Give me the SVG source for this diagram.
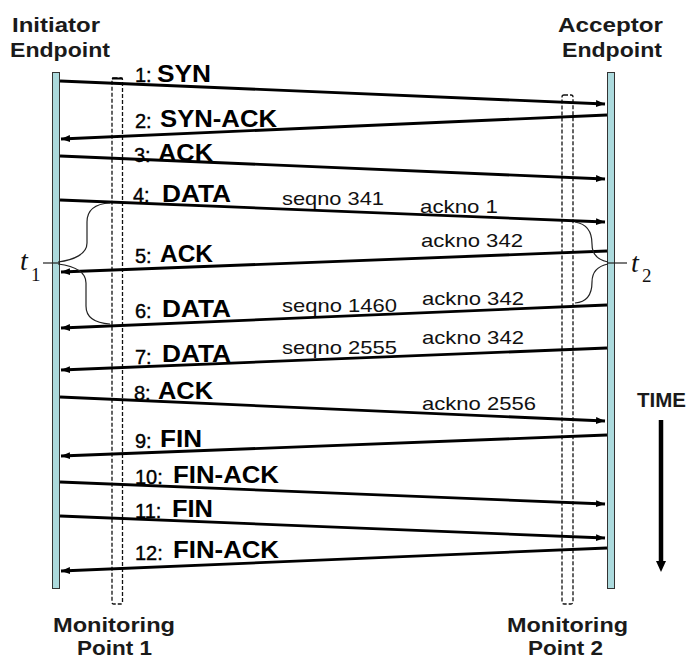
<svg xmlns="http://www.w3.org/2000/svg" width="688" height="659" viewBox="0 0 688 659">
<style>
.hd{font-family:"Liberation Sans",Arial,sans-serif;font-weight:bold;font-size:21px;fill:#1a1a1a}
.w{font-family:"Liberation Sans",Arial,sans-serif;font-weight:bold;font-size:24px;fill:#000}
.n{font-family:"Liberation Sans",Arial,sans-serif;font-size:20px;fill:#000;stroke:#000;stroke-width:0.4}
.s{font-family:"Liberation Sans",Arial,sans-serif;font-size:19px;fill:#111}
.t{font-family:"Liberation Serif","Times New Roman",serif;fill:#111}
.bar{fill:#acdadd;stroke:#333;stroke-width:1}
.mp{fill:none;stroke:#111;stroke-width:1.3;stroke-dasharray:4 2}
.msg{stroke:#000;stroke-width:2.8;fill:none}
.br{stroke:#222;stroke-width:1.2;fill:none}
</style>
<defs>
<marker id="ah" markerUnits="userSpaceOnUse" markerWidth="10" markerHeight="8" refX="9" refY="4" orient="auto">
<path d="M0,0.5 L9,4 L0,7.5 z" fill="#000"/>
</marker>
</defs>

<g id="initiator">
<rect class="bar" x="52.5" y="72.5" width="7" height="516"/>
<text class="hd" x="12" y="32" textLength="88" lengthAdjust="spacingAndGlyphs">Initiator</text>
<text class="hd" x="10" y="57" textLength="100" lengthAdjust="spacingAndGlyphs">Endpoint</text>
</g>

<g id="acceptor">
<rect class="bar" x="607.5" y="72.5" width="7" height="516"/>
<text class="hd" x="558" y="32" textLength="105" lengthAdjust="spacingAndGlyphs">Acceptor</text>
<text class="hd" x="562" y="57" textLength="100" lengthAdjust="spacingAndGlyphs">Endpoint</text>
</g>

<g id="monitor1">
<rect class="mp" x="112" y="78" width="10.5" height="526" rx="1.5"/>
<line x1="112" y1="78.5" x2="122.5" y2="78.5" stroke="#000" stroke-width="2"/>
<text class="hd" x="53" y="632" textLength="122" lengthAdjust="spacingAndGlyphs">Monitoring</text>
<text class="hd" x="77" y="655" textLength="75" lengthAdjust="spacingAndGlyphs">Point 1</text>
</g>

<g id="monitor2">
<rect class="mp" x="562" y="95" width="11" height="509" rx="2"/>
<text class="hd" x="507" y="632" textLength="121" lengthAdjust="spacingAndGlyphs">Monitoring</text>
<text class="hd" x="528" y="655" textLength="75" lengthAdjust="spacingAndGlyphs">Point 2</text>
</g>

<g id="connectors">
<line class="msg" x1="60" y1="81" x2="605" y2="104" marker-end="url(#ah)"/>
<line class="msg" x1="607" y1="115" x2="61" y2="139" marker-end="url(#ah)"/>
<line class="msg" x1="60" y1="156" x2="605" y2="179" marker-end="url(#ah)"/>
<line class="msg" x1="60" y1="200" x2="605" y2="222" marker-end="url(#ah)"/>
<line class="msg" x1="607" y1="251" x2="61" y2="272" marker-end="url(#ah)"/>
<line class="msg" x1="607" y1="305" x2="61" y2="328" marker-end="url(#ah)"/>
<line class="msg" x1="607" y1="348" x2="61" y2="370" marker-end="url(#ah)"/>
<line class="msg" x1="60" y1="397" x2="605" y2="421" marker-end="url(#ah)"/>
<line class="msg" x1="607" y1="435" x2="61" y2="456" marker-end="url(#ah)"/>
<line class="msg" x1="60" y1="482" x2="605" y2="504" marker-end="url(#ah)"/>
<line class="msg" x1="60" y1="516" x2="605" y2="538" marker-end="url(#ah)"/>
<line class="msg" x1="607" y1="548" x2="61" y2="571" marker-end="url(#ah)"/>
</g>

<g id="labels">
<text class="n" x="135" y="82">1:</text><text class="w" x="157" y="82" textLength="54" lengthAdjust="spacingAndGlyphs">SYN</text>
<text class="n" x="135" y="128">2:</text><text class="w" x="160" y="127" textLength="117" lengthAdjust="spacingAndGlyphs">SYN-ACK</text>
<text class="n" x="134" y="162">3:</text><text class="w" x="158" y="161" textLength="55" lengthAdjust="spacingAndGlyphs">ACK</text>
<text class="n" x="133" y="202">4:</text><text class="w" x="162" y="202" textLength="69" lengthAdjust="spacingAndGlyphs">DATA</text>
<text class="n" x="135" y="263">5:</text><text class="w" x="160" y="262" textLength="53" lengthAdjust="spacingAndGlyphs">ACK</text>
<text class="n" x="135" y="318">6:</text><text class="w" x="162" y="317" textLength="69" lengthAdjust="spacingAndGlyphs">DATA</text>
<text class="n" x="135" y="364">7:</text><text class="w" x="162" y="362" textLength="69" lengthAdjust="spacingAndGlyphs">DATA</text>
<text class="n" x="134" y="400">8:</text><text class="w" x="158" y="399" textLength="55" lengthAdjust="spacingAndGlyphs">ACK</text>
<text class="n" x="135" y="448">9:</text><text class="w" x="160" y="447" textLength="42" lengthAdjust="spacingAndGlyphs">FIN</text>
<text class="n" x="135" y="484">10:</text><text class="w" x="173" y="483" textLength="106" lengthAdjust="spacingAndGlyphs">FIN-ACK</text>
<text class="n" x="135" y="518">11:</text><text class="w" x="172" y="517" textLength="41" lengthAdjust="spacingAndGlyphs">FIN</text>
<text class="n" x="135" y="560">12:</text><text class="w" x="173" y="558" textLength="106" lengthAdjust="spacingAndGlyphs">FIN-ACK</text>

<text class="s" x="282" y="205" textLength="102" lengthAdjust="spacingAndGlyphs">seqno 341</text>
<text class="s" x="420" y="213" textLength="78" lengthAdjust="spacingAndGlyphs">ackno 1</text>
<text class="s" x="421" y="247" textLength="102" lengthAdjust="spacingAndGlyphs">ackno 342</text>
<text class="s" x="282" y="312" textLength="115" lengthAdjust="spacingAndGlyphs">seqno 1460</text>
<text class="s" x="422" y="305" textLength="102" lengthAdjust="spacingAndGlyphs">ackno 342</text>
<text class="s" x="282" y="354" textLength="115" lengthAdjust="spacingAndGlyphs">seqno 2555</text>
<text class="s" x="422" y="344" textLength="102" lengthAdjust="spacingAndGlyphs">ackno 342</text>
<text class="s" x="422" y="410" textLength="114" lengthAdjust="spacingAndGlyphs">ackno 2556</text>
</g>

<g id="t1">
<path class="br" d="M110,203 C92,204 87,212 87,222 L87,243 C87,254 74,260 58,262"/>
<path class="br" d="M58,264 C74,266 86,272 86,283 L86,306 C86,317 94,323 110,324"/>
<line class="br" x1="43" y1="263" x2="60" y2="263"/>
<text class="t" x="20" y="270" font-size="28" font-style="italic">t</text>
<text class="t" x="31" y="281" font-size="19">1</text>
</g>

<g id="t2">
<path class="br" d="M575,222 C588,224 592,234 592,244 C592,254 598,260 608,262"/>
<path class="br" d="M608,264 C598,266 592,272 592,282 C592,294 588,302 575,303"/>
<line class="br" x1="607" y1="263" x2="627" y2="263"/>
<text class="t" x="631" y="272" font-size="28" font-style="italic">t</text>
<text class="t" x="642" y="282" font-size="19">2</text>
</g>

<g id="time">
<text class="hd" x="637" y="407" font-size="18" textLength="49" lengthAdjust="spacingAndGlyphs">TIME</text>
<line x1="661" y1="420" x2="661" y2="563" stroke="#000" stroke-width="4.5"/>
<path d="M656,561 L666,561 L661,572 z" fill="#000"/>
</g>
</svg>
